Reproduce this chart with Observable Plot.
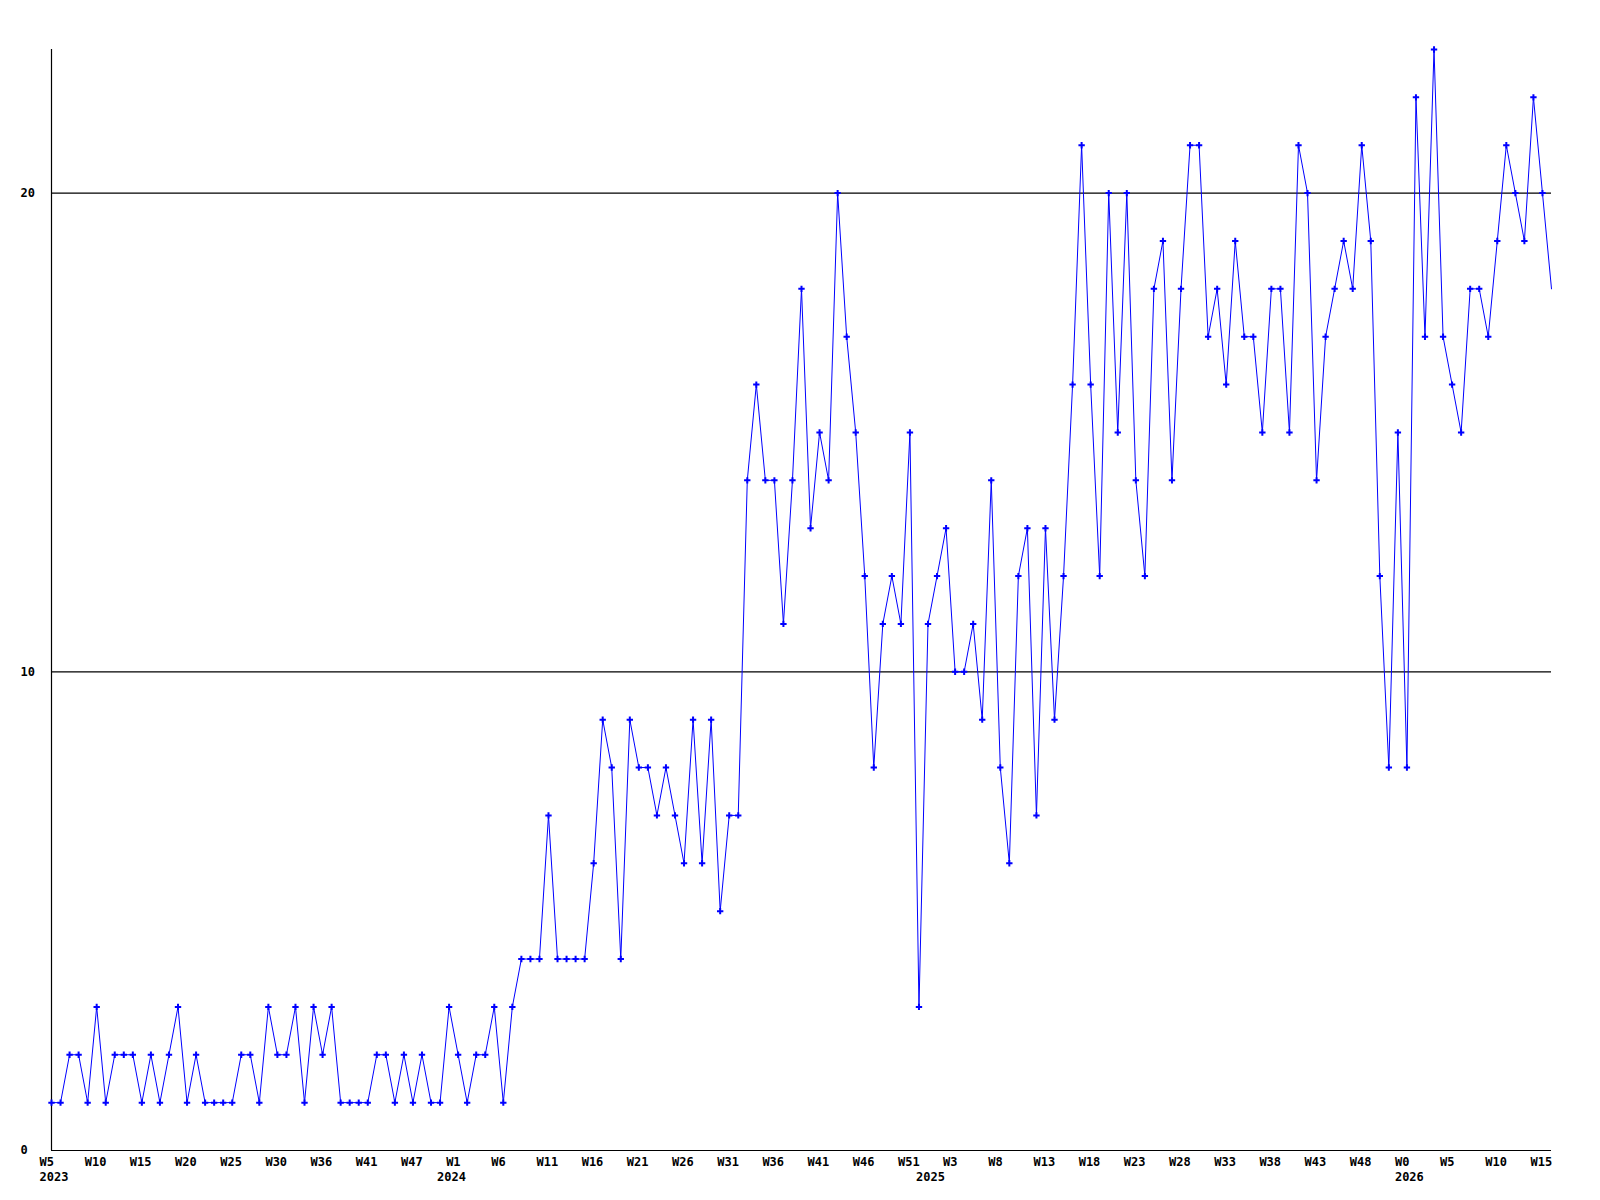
<!DOCTYPE html>
<html>
<head>
<meta charset="utf-8">
<script src="https://cdn.jsdelivr.net/npm/d3@7"></script>
<script src="https://cdn.jsdelivr.net/npm/@observablehq/plot@0.6"></script>
<style>
  html, body { margin: 0; padding: 0; background: #fff; }
  #chart svg { display: block; }
</style>
</head>
<body>
<div id="chart"></div>
<script>
// Weekly values, one per week from W5 2023 onwards
const values = [
  1,1,2,2,1,3,1,2,2,2, 1,2,1,2,3,1,2,1,1,1, 1,2,2,1,3,2,2,3,1,3,
  2,3,1,1,1,1,2,2,1,2, 1,2,1,1,3,2,1,2,2,3, 1,3,4,4,4,
  7,4,4,4,4,6,9,8,4,9,8,8,7,8,7,6,9,6,9,5,7,7,
  14,16,14,14,11,14,18,13,15,14,20,17,15,12,
  8,11,12,11,15,3,11,12,13,10,10,11,9,14,8,6,12,13,7,13,9,12,16,21,16,12,20,15,
  20,14,12,18,19,14,18,21,21,17,18,16,19,17,17,15,18,18,15,21,20,14,17,18,19,18,21,
  19,12,8,15,8,22,17,23,17,16,15,18,18,17,19,21,20,19,22,20,18
];

// Tick labels, one every 5 weeks
const weekLabels = [
  "W5","W10","W15","W20","W25","W30","W36","W41","W47",
  "W1","W6","W11","W16","W21","W26","W31","W36","W41","W46","W51",
  "W3","W8","W13","W18","W23","W28","W33","W38","W43","W48",
  "W0","W5","W10","W15"
];
const tickStep = 5;

// Year labels and the week index where each year label sits
const years = ["2023","2024","2025","2026"];
const yearWeekIndex = [0, 44, 97, 150];

const yTicks = [0, 10, 20];
const gridLines = [10, 20];

const data = values.map((v, i) => ({i, v}));
const markerData = data.slice(0, -1); // last week drawn at the edge without marker
const ticks = weekLabels.map((label, k) => ({i: k * tickStep, label}));
const yearData = years.map((label, k) => ({i: yearWeekIndex[k], label}));

const font = "'DejaVu Sans Mono', monospace";

const chart = Plot.plot({
  width: 1600,
  height: 1200,
  marginLeft: 51,
  marginRight: 49,
  marginTop: 49,
  marginBottom: 50,
  style: {fontFamily: font, fontSize: "12px", fontWeight: "bold", background: "#fff"},
  x: {domain: [0, values.length - 1], axis: null},
  y: {domain: [0, 23], axis: null},
  marks: [
    Plot.ruleY(gridLines, {stroke: "#000", strokeWidth: 1.2}),
    Plot.ruleY([0], {stroke: "#000", strokeWidth: 1.2}),
    Plot.ruleX([0], {stroke: "#000", strokeWidth: 1.2}),
    Plot.line(data, {x: "i", y: "v", stroke: "#0000ff", strokeWidth: 1}),
    Plot.dot(markerData, {x: "i", y: "v", symbol: "plus", r: 2.2, stroke: "#0000ff", strokeWidth: 2}),
    Plot.text(yTicks, {y: d => d, text: d => String(d), frameAnchor: "left", textAnchor: "start", dx: -31, fill: "#000", fontFamily: font, fontSize: 12, fontWeight: "bold"}),
    Plot.text(ticks, {x: "i", text: "label", frameAnchor: "bottom", textAnchor: "start", dx: -12, dy: 15, fill: "#000", fontFamily: font, fontSize: 12, fontWeight: "bold"}),
    Plot.text(yearData, {x: "i", text: "label", frameAnchor: "bottom", textAnchor: "start", dx: -12, dy: 30, fill: "#000", fontFamily: font, fontSize: 12, fontWeight: "bold"})
  ]
});
document.getElementById("chart").appendChild(chart);
</script>
</body>
</html>
